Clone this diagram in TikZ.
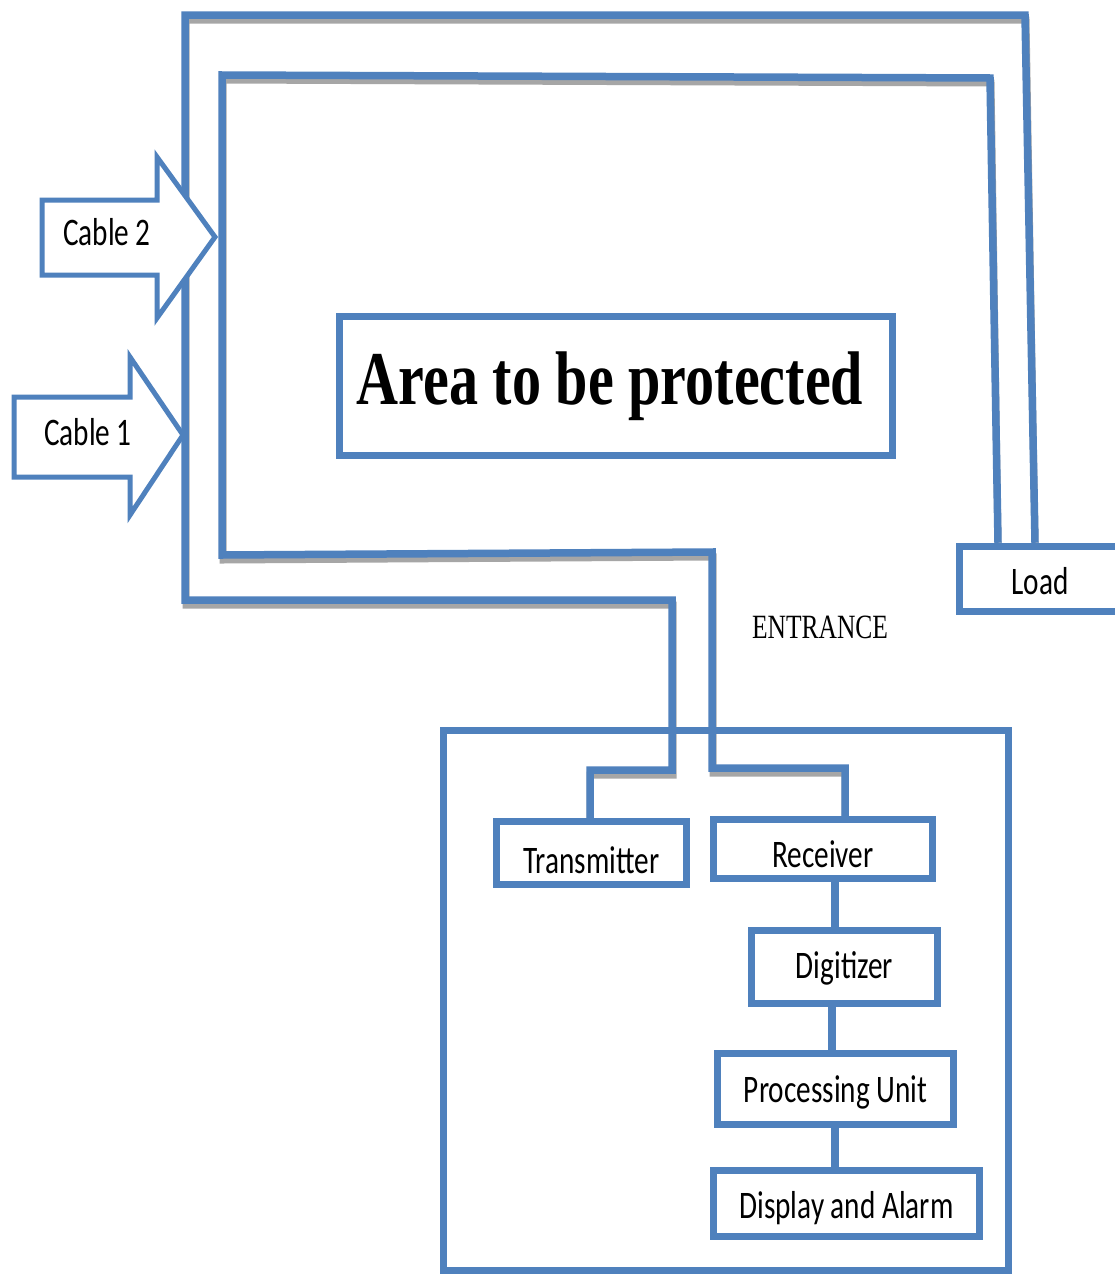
\documentclass[tikz,border=0pt]{standalone}
\usepackage{fontspec}
\usepackage{graphicx}
\usetikzlibrary{backgrounds}
\setmainfont{Liberation Serif}
\newfontfamily\calfont{Carlito}
\definecolor{cblue}{HTML}{4F81BD}
\newcommand{\nar}[1]{\scalebox{0.75}[1]{#1}}
\newcommand{\dn}[2]{\raisebox{-#1pt}[\height][\depth]{\nar{#2}}}
\begin{document}
\begin{tikzpicture}[x=1pt,y=-1pt,
  cable/.style={draw=cblue, line width=7.5pt},
  shade/.style={draw=black!35, line width=7pt},
  box/.style={draw=cblue, line width=7.5pt, fill=white, rectangle, inner sep=0pt,
    font=\calfont\fontsize{39}{42}\selectfont},
  bigarrow/.style={draw=cblue, line width=5pt, fill=white, line join=miter},
  lbl/.style={font=\calfont\fontsize{39}{42}\selectfont, inner sep=0pt}]
\useasboundingbox (0,0) rectangle (1115,1274);

% boxes with text
\node[box, minimum width=190pt, minimum height=63pt] (tx) at (591.5,853) {\dn{7}{Transmitter}};
\node[box, minimum width=219pt, minimum height=59pt] (rx) at (823,849) {\dn{5}{Receiver}};
\node[box, minimum width=161pt, minimum height=65pt] (ld) at (1040,579) {\dn{2}{Load}};
\node[box, minimum width=186pt, minimum height=73pt] (dg) at (844.5,967) {\dn{1}{Digitizer}};
\node[box, minimum width=236pt, minimum height=71pt] (pu) at (835.5,1089) {\dn{3}{Processing Unit}};
\node[box, minimum width=266pt, minimum height=66pt] (da) at (846.5,1203.5) {\dn{5}{Display and Alarm}};

\coordinate (lo1x) at (1035,0);
\coordinate (lo2x) at (998,0);
\coordinate (txx) at (590,0);
\coordinate (rxx) at (845,0);
\coordinate (c1) at (835,0);
\coordinate (c2) at (832,0);

% area box
\node[draw=cblue, line width=7.5pt, fill=white, rectangle, inner sep=0pt,
  minimum width=553pt, minimum height=139pt,
  font=\bfseries\fontsize{76}{80}\selectfont] (area) at (616,386) {\hspace*{-12pt}\scalebox{0.765}[1]{Area to be protected}};

% entrance label
\node[inner sep=0pt, font=\fontsize{34}{36}\selectfont] (ent) at (820,627) {\nar{ENTRANCE}};

% internal connectors
\draw[cable] (rx.south -| c1) -- (dg.north -| c1);
\draw[cable] (dg.south -| c2) -- (pu.north -| c2);
\draw[cable] (pu.south -| c1) -- (da.north -| c1);

\begin{scope}[on background layer]
\fill[white] (0,0) rectangle (1115,1274);
% shadows of cables
\begin{scope}[shift={(1,5)}]
\draw[shade] (tx.north -| txx) |- (672,770) -- (672,600) -- (185,600) -- (185,15) -- (1025,15) -- (ld.north -| lo1x);
\draw[shade] (rx.north -| rxx) |- (712,768) -- (712,552) -- (222,555) -- (222,75) -- (990,78) -- (ld.north -| lo2x);
\end{scope}
% entrance unit enclosure
\node[draw=cblue, line width=7.5pt, rectangle, minimum width=565pt, minimum height=540pt, inner sep=0pt] (unit) at (726,1000.5) {};
% cables
\draw[cable] (tx.north -| txx) |- (672,770) -- (672,600) -- (185,600) -- (185,15) -- (1025,15) -- (ld.north -| lo1x);
\draw[cable] (rx.north -| rxx) |- (712,768) -- (712,552) -- (222,555) -- (222,75) -- (990,78) -- (ld.north -| lo2x);
% cable arrows
\draw[bigarrow] (42,200) -- (157,200) -- (157,157) -- (215,237) -- (157,318) -- (157,275) -- (42,275) -- cycle;
\draw[bigarrow] (14,397) -- (130,397) -- (130,357) -- (183,435) -- (130,515) -- (130,477) -- (14,477) -- cycle;
\end{scope}

\node[lbl] (c2lbl) at (107,232) {\nar{Cable 2}};
\node[lbl] (c1lbl) at (88,432) {\nar{Cable 1}};
\end{tikzpicture}
\end{document}
